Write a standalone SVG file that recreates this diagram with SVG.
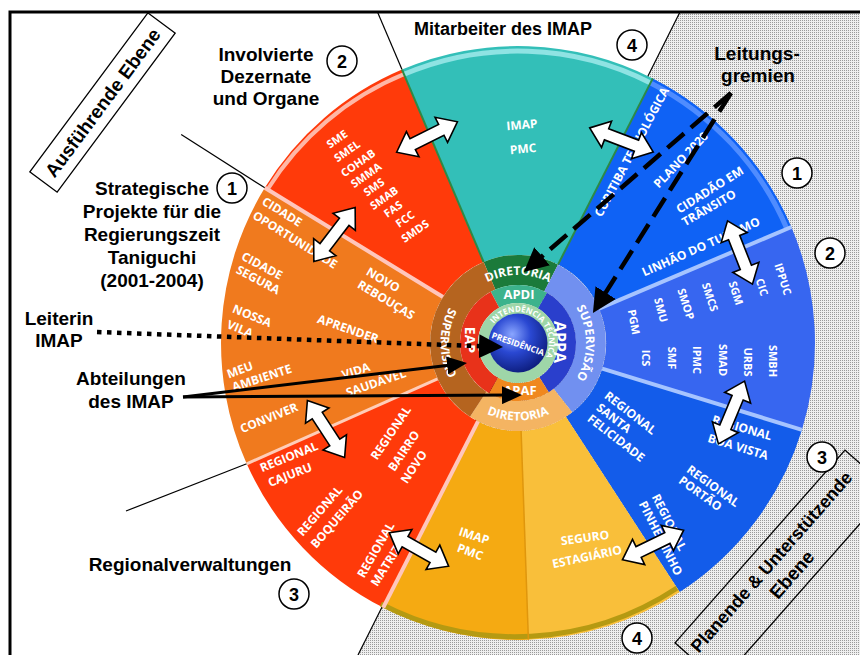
<svg xmlns="http://www.w3.org/2000/svg" width="860" height="655" viewBox="0 0 860 655">
  <defs>
    <pattern id="grain" width="2" height="2" patternUnits="userSpaceOnUse">
      <rect width="2" height="2" fill="#efefef"/>
      <rect width="1" height="1" fill="#9a9a9a"/>
    </pattern>
    <radialGradient id="sphere" cx="0.4" cy="0.35" r="0.7">
      <stop offset="0" stop-color="#8aa6ff"/>
      <stop offset="0.45" stop-color="#2a48d2"/>
      <stop offset="1" stop-color="#0b1a78"/>
    </radialGradient>
    <marker id="head-lg" viewBox="0 -12 24 24" refX="12" refY="0" markerWidth="24" markerHeight="24" markerUnits="userSpaceOnUse" orient="auto">
      <path d="M0,-12 L24,0 L0,12 Z" fill="#000"/>
    </marker>
    <marker id="head-sm" viewBox="0 -9 20 18" refX="8" refY="0" markerWidth="20" markerHeight="18" markerUnits="userSpaceOnUse" orient="auto">
      <path d="M0,-9 L20,0 L0,9 Z" fill="#000"/>
    </marker>
    <path id="dbl" d="M-34,0 L-16,-14 L-16,-6 L16,-6 L16,-14 L34,0 L16,14 L16,6 L-16,6 L-16,14 Z"/>
    <style>
      .lbl { font-family: "Liberation Sans", Arial, sans-serif; font-weight: bold; font-size: 19px; fill: #000; text-anchor: middle; }
      .num { font-family: "Liberation Sans", Arial, sans-serif; font-weight: bold; font-size: 18px; fill: #000; text-anchor: middle; }
      .badge circle { fill: #fff; stroke: #000; stroke-width: 1.5; }
      .w { font-family: "Open Sans", "Liberation Sans", sans-serif; font-weight: 700; font-size: 12px; fill: #fff; text-anchor: middle; }
      .ws { font-size: 11px; }
      .st { text-anchor: start; }
      .ring { fill: none; }
      .edge { fill: none; stroke-linecap: butt; }
      .arrow { fill: #fff; stroke: #000; stroke-width: 1.6; stroke-linejoin: miter; }
      .dash { fill: none; stroke: #000; stroke-width: 4.5; stroke-dasharray: 22 9; }
      .dot { fill: none; stroke: #000; stroke-width: 4.5; stroke-dasharray: 4.5 5.5; }
      .solid { fill: none; stroke: #000; stroke-width: 3; }
      .thin { fill: none; stroke: #000; stroke-width: 1.2; }
      .box { fill: none; stroke: #000; stroke-width: 1.3; }
    </style>
  </defs>

  <!-- background and planning area -->
  <rect width="860" height="655" fill="#fff"/>
  <polygon points="680,12 860,12 860,655 358,655" fill="url(#grain)"/>
  <line class="thin" x1="680" y1="12" x2="358" y2="655"/>

  <!-- radial divider extensions -->
  <g id="dividers">
    <line class="thin" x1="402.0" y1="69.6" x2="377.7" y2="12.5"/>
    <line class="thin" x1="264.8" y1="187.8" x2="181.2" y2="134.6"/>
    <line class="thin" x1="246.7" y1="463.8" x2="126" y2="511"/>
  </g>

  <!-- outer wheel sectors -->
  <g id="wheel">
    <path id="sector-teal" d="M402.0,69.6 A297,297 0 0 1 652.8,78.4 L558.0,264.6 A88,88 0 0 0 483.6,262.0 Z" fill="#33bfb8"/>
    <path id="sector-blue1" d="M652.8,78.4 A297,297 0 0 1 791.4,227.0 L599.0,308.6 A88,88 0 0 0 558.0,264.6 Z" fill="#0f62f5"/>
    <path id="sector-blue2" d="M791.4,227.0 A297,297 0 0 1 802.0,429.8 L602.2,368.7 A88,88 0 0 0 599.0,308.6 Z" fill="#3766f0"/>
    <path id="sector-blue3" d="M802.0,429.8 A297,297 0 0 1 679.7,592.1 L565.9,416.8 A88,88 0 0 0 602.2,368.7 Z" fill="#135cea"/>
    <path id="sector-yellow-light" d="M679.7,592.1 A297,297 0 0 1 528.4,639.8 L521.1,430.9 A88,88 0 0 0 565.9,416.8 Z" fill="#f9bf3a"/>
    <path id="sector-yellow" d="M528.4,639.8 A297,297 0 0 1 383.2,607.6 L478.0,421.4 A88,88 0 0 0 521.1,430.9 Z" fill="#f5aa12"/>
    <path id="sector-red-lower" d="M383.2,607.6 A297,297 0 0 1 246.7,463.8 L437.6,378.8 A88,88 0 0 0 478.0,421.4 Z" fill="#ff3a0a"/>
    <path id="sector-orange" d="M246.7,463.8 A297,297 0 0 1 264.8,187.8 L443.0,297.0 A88,88 0 0 0 437.6,378.8 Z" fill="#f07a1e"/>
    <path id="sector-red-upper" d="M264.8,187.8 A297,297 0 0 1 402.0,69.6 L483.6,262.0 A88,88 0 0 0 443.0,297.0 Z" fill="#ff3a0a"/>

    <!-- rims and seams -->
    <path class="edge" d="M404.0,74.2 A292,292 0 0 1 650.6,82.9" stroke="#8fe3e3" stroke-width="5"/>
    <path class="edge" d="M650.6,82.9 A292,292 0 0 1 787.0,229.0" stroke="#4f8cff" stroke-width="5"/>
    <path class="edge" d="M676.9,588.1 A293,293 0 0 1 381.0,604.0" stroke="#b59a12" stroke-width="5"/>
    <path class="edge" d="M267.5,189.5 A292,292 0 0 1 404.0,74.2" stroke="#ffb7a6" stroke-width="4"/>
    <line class="edge" x1="483.6" y1="262.0" x2="402.0" y2="69.6" stroke="#2d8a46" stroke-width="2"/>
    <line class="edge" x1="558.0" y1="264.6" x2="652.8" y2="78.4" stroke="#2d8a46" stroke-width="2"/>
    <line class="edge" x1="599.0" y1="308.6" x2="791.4" y2="227.0" stroke="#a6c4ff" stroke-width="4"/>
    <line class="edge" x1="602.2" y1="368.7" x2="802.0" y2="429.8" stroke="#a6c4ff" stroke-width="4"/>
    <line class="edge" x1="521.1" y1="430.9" x2="528.4" y2="639.8" stroke="#e0960c" stroke-width="1.5"/>
    <line class="edge" x1="478.0" y1="421.4" x2="383.2" y2="607.6" stroke="#ffc6bc" stroke-width="4"/>
    <line class="edge" x1="437.6" y1="378.8" x2="246.7" y2="463.8" stroke="#ffcdb8" stroke-width="3"/>
    <line class="edge" x1="443.0" y1="297.0" x2="264.8" y2="187.8" stroke="#ffc6bc" stroke-width="4"/>
  </g>

  <!-- central rings -->
  <g id="rings">
    <path class="ring" d="M489.5,275.8 A73,73 0 0 1 551.1,278.0" stroke="#1b7a3a" stroke-width="30"/>
    <path class="ring" d="M551.1,278.0 A73,73 0 0 1 562.9,400.5" stroke="#7190f0" stroke-width="30"/>
    <path class="ring" d="M562.9,400.5 A73,73 0 0 1 478.2,404.2" stroke="#f4b462" stroke-width="30"/>
    <path class="ring" d="M478.2,404.2 A73,73 0 0 1 489.5,275.8" stroke="#b5641f" stroke-width="30"/>
    <path class="ring" d="M495.0,299.7 A49,49 0 0 1 542.5,300.6" stroke="#3cb38c" stroke-width="18"/>
    <path class="ring" d="M542.5,300.6 A49,49 0 0 1 544.0,384.6" stroke="#2a3fcc" stroke-width="18"/>
    <path class="ring" d="M544.0,384.6 A49,49 0 0 1 493.5,385.4" stroke="#f0881e" stroke-width="18"/>
    <path class="ring" d="M493.5,385.4 A49,49 0 0 1 495.0,299.7" stroke="#e8321a" stroke-width="18"/>
    <circle cx="518" cy="343" r="34.5" fill="none" stroke="#9ed6a8" stroke-width="11"/>
    <circle cx="518" cy="343" r="29.5" fill="url(#sphere)"/>

    <path id="p-dir-top" d="M479.0,287.3 A68,68 0 0 1 557.0,287.3" fill="none"/>
    <path id="p-sup-right" d="M561.7,290.9 A68,68 0 0 1 561.7,395.1" fill="none"/>
    <path id="p-sup-left" d="M468.2,283.6 A77.5,77.5 0 0 0 468.2,402.4" fill="none"/>
    <path id="p-dir-bottom" d="M468.2,402.4 A77.5,77.5 0 0 0 567.8,402.4" fill="none"/>
    <path id="p-intend" d="M488.1,335.0 A31,31 0 1 1 537.9,366.7" fill="none"/>

    <text class="w"><textPath href="#p-dir-top" startOffset="50%">DIRETORIA</textPath></text>
    <text class="w"><textPath href="#p-sup-right" startOffset="50%">SUPERVISÃO</textPath></text>
    <text class="w"><textPath href="#p-sup-left" startOffset="50%">SUPERVISÃO</textPath></text>
    <text class="w"><textPath href="#p-dir-bottom" startOffset="50%">DIRETORIA</textPath></text>
    <text class="w" style="font-size:8px"><textPath href="#p-intend" startOffset="50%">INTENDÊNCIA TÉCNICA</textPath></text>
    <text class="w" x="519" y="299" style="font-size:13px">APDI</text>
    <text class="w" x="520" y="395" style="font-size:13px">APAF</text>
    <text class="w" transform="translate(554,342) rotate(90)" style="font-size:16px">APPA</text>
    <text class="w" transform="translate(465,340) rotate(90)" style="font-size:14px">EAP</text>
    <text class="w" transform="translate(518,344) rotate(19)" y="3" style="font-size:8.5px">PRESIDÊNCIA</text>
  </g>

  <!-- sector labels -->
  <g id="sector-labels">
    <text class="w" transform="translate(522,125) rotate(-5)" y="4">IMAP</text>
    <text class="w" transform="translate(523,149) rotate(-5)" y="4">PMC</text>

    <g class="ws">
      <text class="w ws" transform="translate(337,139) rotate(-35)" y="4">SME</text>
      <text class="w ws" transform="translate(347,151) rotate(-35)" y="4">SMEL</text>
      <text class="w ws" transform="translate(358,163) rotate(-35)" y="4">COHAB</text>
      <text class="w ws" transform="translate(366,175) rotate(-35)" y="4">SMMA</text>
      <text class="w ws" transform="translate(374,187) rotate(-35)" y="4">SMS</text>
      <text class="w ws" transform="translate(384,198) rotate(-35)" y="4">SMAB</text>
      <text class="w ws" transform="translate(393,209) rotate(-35)" y="4">FAS</text>
      <text class="w ws" transform="translate(405,219) rotate(-35)" y="4">FCC</text>
      <text class="w ws" transform="translate(415,231) rotate(-35)" y="4">SMDS</text>
    </g>

    <text class="w" transform="translate(282,212) rotate(32)" y="4">CIDADE</text>
    <text class="w" transform="translate(295,240) rotate(32)" y="4">OPORTUNIDADE</text>
    <text class="w" transform="translate(262,266) rotate(28)" y="4">CIDADE</text>
    <text class="w" transform="translate(258,280) rotate(28)" y="4">SEGURA</text>
    <text class="w" transform="translate(252,316) rotate(22)" y="4">NOSSA</text>
    <text class="w" transform="translate(240,329) rotate(22)" y="4">VILA</text>
    <text class="w" transform="translate(348,329) rotate(19)" y="4">APRENDER</text>
    <text class="w" transform="translate(383,280) rotate(30)" y="4">NOVO</text>
    <text class="w" transform="translate(386,300) rotate(31)" y="4">REBOUÇAS</text>
    <text class="w" transform="translate(240,370) rotate(-20)" y="4">MEU</text>
    <text class="w" transform="translate(262,378) rotate(-18)" y="4">AMBIENTE</text>
    <text class="w" transform="translate(356,371) rotate(-18)" y="4">VIDA</text>
    <text class="w" transform="translate(376,383) rotate(-19)" y="4">SAUDÁVEL</text>
    <text class="w" transform="translate(269,418) rotate(-22)" y="4">CONVIVER</text>

    <text class="w" transform="translate(289,457) rotate(-22)" y="4">REGIONAL</text>
    <text class="w" transform="translate(290,475) rotate(-21)" y="4">CAJURU</text>
    <text class="w" transform="translate(391,433) rotate(-56)" y="4">REGIONAL</text>
    <text class="w" transform="translate(404,451) rotate(-56)" y="4">BAIRRO</text>
    <text class="w" transform="translate(414,467) rotate(-56)" y="4">NOVO</text>
    <text class="w" transform="translate(320,511) rotate(-49)" y="4">REGIONAL</text>
    <text class="w" transform="translate(337,519) rotate(-49)" y="4">BOQUEIRÃO</text>
    <text class="w" transform="translate(376,550) rotate(-60)" y="4">REGIONAL</text>
    <text class="w" transform="translate(386,566) rotate(-58)" y="4">MATRIZ</text>

    <text class="w" transform="translate(474,536) rotate(18)" y="4">IMAP</text>
    <text class="w" transform="translate(470,552) rotate(20)" y="4">PMC</text>
    <text class="w" transform="translate(585,538) rotate(-8)" y="4">SEGURO</text>
    <text class="w" transform="translate(587,557) rotate(-12)" y="4">ESTAGIÁRIO</text>

    <text class="w" transform="translate(632,152) rotate(-62)" y="4">CURITIBA TECNOLÓGICA</text>
    <text class="w" transform="translate(681,160) rotate(-46)" y="4">PLANO 2020</text>
    <text class="w" transform="translate(710,190) rotate(-32)" y="4">CIDADÃO EM</text>
    <text class="w" transform="translate(709,208) rotate(-30)" y="4">TRÂNSITO</text>
    <text class="w" transform="translate(701,247) rotate(-24)" y="4">LINHÃO DO TURISMO</text>

    <text class="w ws" transform="translate(783,279) rotate(72)" y="4">IPPUC</text>
    <text class="w ws" transform="translate(762,287) rotate(72)" y="4">CIC</text>
    <text class="w ws" transform="translate(736,293) rotate(72)" y="4">SGM</text>
    <text class="w ws" transform="translate(710,297) rotate(72)" y="4">SMCS</text>
    <text class="w ws" transform="translate(686,304) rotate(72)" y="4">SMOP</text>
    <text class="w ws" transform="translate(661,310) rotate(75)" y="4">SMU</text>
    <text class="w ws" transform="translate(634,322) rotate(80)" y="4">PGM</text>
    <text class="w ws" transform="translate(646,358) rotate(90)" y="4">ICS</text>
    <text class="w ws" transform="translate(672,358) rotate(90)" y="4">SMF</text>
    <text class="w ws" transform="translate(697,360) rotate(90)" y="4">IPMC</text>
    <text class="w ws" transform="translate(723,360) rotate(90)" y="4">SMAD</text>
    <text class="w ws" transform="translate(748,362) rotate(90)" y="4">URBS</text>
    <text class="w ws" transform="translate(773,361) rotate(90)" y="4">SMBH</text>

    <text class="w st" transform="translate(606,394) rotate(38)" y="4">REGIONAL</text>
    <text class="w st" transform="translate(598,406) rotate(38)" y="4">SANTA</text>
    <text class="w st" transform="translate(589,417) rotate(38)" y="4">FELICIDADE</text>
    <text class="w" transform="translate(742,428) rotate(16)" y="4">REGIONAL</text>
    <text class="w" transform="translate(738,447) rotate(17)" y="4">BOA VISTA</text>
    <text class="w st" transform="translate(688,468) rotate(36)" y="4">REGIONAL</text>
    <text class="w st" transform="translate(680,479) rotate(36)" y="4">PORTÃO</text>
    <text class="w st" transform="translate(655,495) rotate(63)" y="4">REGIONAL</text>
    <text class="w st" transform="translate(642,502) rotate(63)" y="4">PINHEIRINHO</text>
  </g>

  <!-- two-way exchange arrows -->
  <g id="exchange-arrows">
    <use href="#dbl" class="arrow" transform="translate(427,137) rotate(-26.6)"/>
    <use href="#dbl" class="arrow" transform="translate(621.5,140) rotate(20.9)"/>
    <use href="#dbl" class="arrow" transform="translate(334.5,234.5) rotate(-52.6)"/>
    <use href="#dbl" class="arrow" transform="translate(326,429) rotate(56.8)"/>
    <use href="#dbl" class="arrow" transform="translate(740,252.5) rotate(68.5)"/>
    <use href="#dbl" class="arrow" transform="translate(731.5,412.5) rotate(112.6)"/>
    <use href="#dbl" class="arrow" transform="translate(419,549.5) rotate(29.4)"/>
    <use href="#dbl" class="arrow" transform="translate(653,545) rotate(-25.8)"/>
  </g>

  <!-- pointer connectors -->
  <g id="connectors">
    <path class="dash" d="M731,93 L533.0,264.1" marker-end="url(#head-lg)"/>
    <path class="dash" d="M731,93 L599.3,302.8" marker-end="url(#head-lg)"/>
    <path class="dot" d="M97,332 L491,346.6" marker-end="url(#head-lg)"/>
    <path class="solid" d="M183,397 L455.1,364.4" marker-end="url(#head-sm)"/>
    <path class="solid" d="M183,397 L510,395.1" marker-end="url(#head-sm)"/>
  </g>

  <!-- level boxes -->
  <g id="level-executing" transform="translate(102.5,102.5) rotate(-53.4)">
    <rect class="box" x="-99" y="-17" width="198" height="34"/>
    <text class="lbl" x="0" y="7">Ausführende Ebene</text>
  </g>
  <g id="level-planning" transform="translate(760,546.5) rotate(-48.6)">
    <rect class="box" x="-128.5" y="0" width="257" height="60"/>
    <text class="lbl" x="-4" y="25" style="font-size:18px">Planende &amp; Unterstützende</text>
    <text class="lbl" x="0" y="49">Ebene</text>
  </g>

  <!-- labels -->
  <g id="label-staff"><text class="lbl" x="503" y="35" style="font-size:18px">Mitarbeiter des IMAP</text></g>
  <g id="label-departments">
    <text class="lbl" x="266" y="61">Involvierte</text>
    <text class="lbl" x="266" y="83">Dezernate</text>
    <text class="lbl" x="266" y="105">und Organe</text>
  </g>
  <g id="label-boards">
    <text class="lbl" x="757" y="60">Leitungs-</text>
    <text class="lbl" x="758" y="82">gremien</text>
  </g>
  <g id="label-projects">
    <text class="lbl" x="152" y="195">Strategische</text>
    <text class="lbl" x="152" y="218">Projekte für die</text>
    <text class="lbl" x="152" y="241">Regierungszeit</text>
    <text class="lbl" x="152" y="264">Taniguchi</text>
    <text class="lbl" x="152" y="287">(2001-2004)</text>
  </g>
  <g id="label-head">
    <text class="lbl" x="59" y="325">Leiterin</text>
    <text class="lbl" x="59" y="347">IMAP</text>
  </g>
  <g id="label-units">
    <text class="lbl" x="131" y="385">Abteilungen</text>
    <text class="lbl" x="131" y="408">des IMAP</text>
  </g>
  <g id="label-regional"><text class="lbl" x="190" y="571">Regionalverwaltungen</text></g>

  <!-- numbered badges -->
  <g class="badge" id="badge-left-1"><circle cx="232" cy="188" r="15"/><text class="num" x="232" y="194.5">1</text></g>
  <g class="badge" id="badge-left-2"><circle cx="342" cy="61" r="15"/><text class="num" x="342" y="67.5">2</text></g>
  <g class="badge" id="badge-top-4"><circle cx="632" cy="45" r="15"/><text class="num" x="632" y="51.5">4</text></g>
  <g class="badge" id="badge-right-1"><circle cx="797" cy="173" r="15"/><text class="num" x="797" y="179.5">1</text></g>
  <g class="badge" id="badge-right-2"><circle cx="830" cy="253" r="15"/><text class="num" x="830" y="259.5">2</text></g>
  <g class="badge" id="badge-right-3"><circle cx="822" cy="457" r="15"/><text class="num" x="822" y="463.5">3</text></g>
  <g class="badge" id="badge-left-3"><circle cx="294" cy="594" r="15"/><text class="num" x="294" y="600.5">3</text></g>
  <g class="badge" id="badge-bottom-4"><circle cx="637" cy="638" r="15"/><text class="num" x="637" y="644.5">4</text></g>

  <!-- frame -->
  <path d="M10,660 L10,12 L862,12" fill="none" stroke="#000" stroke-width="3"/>
</svg>
